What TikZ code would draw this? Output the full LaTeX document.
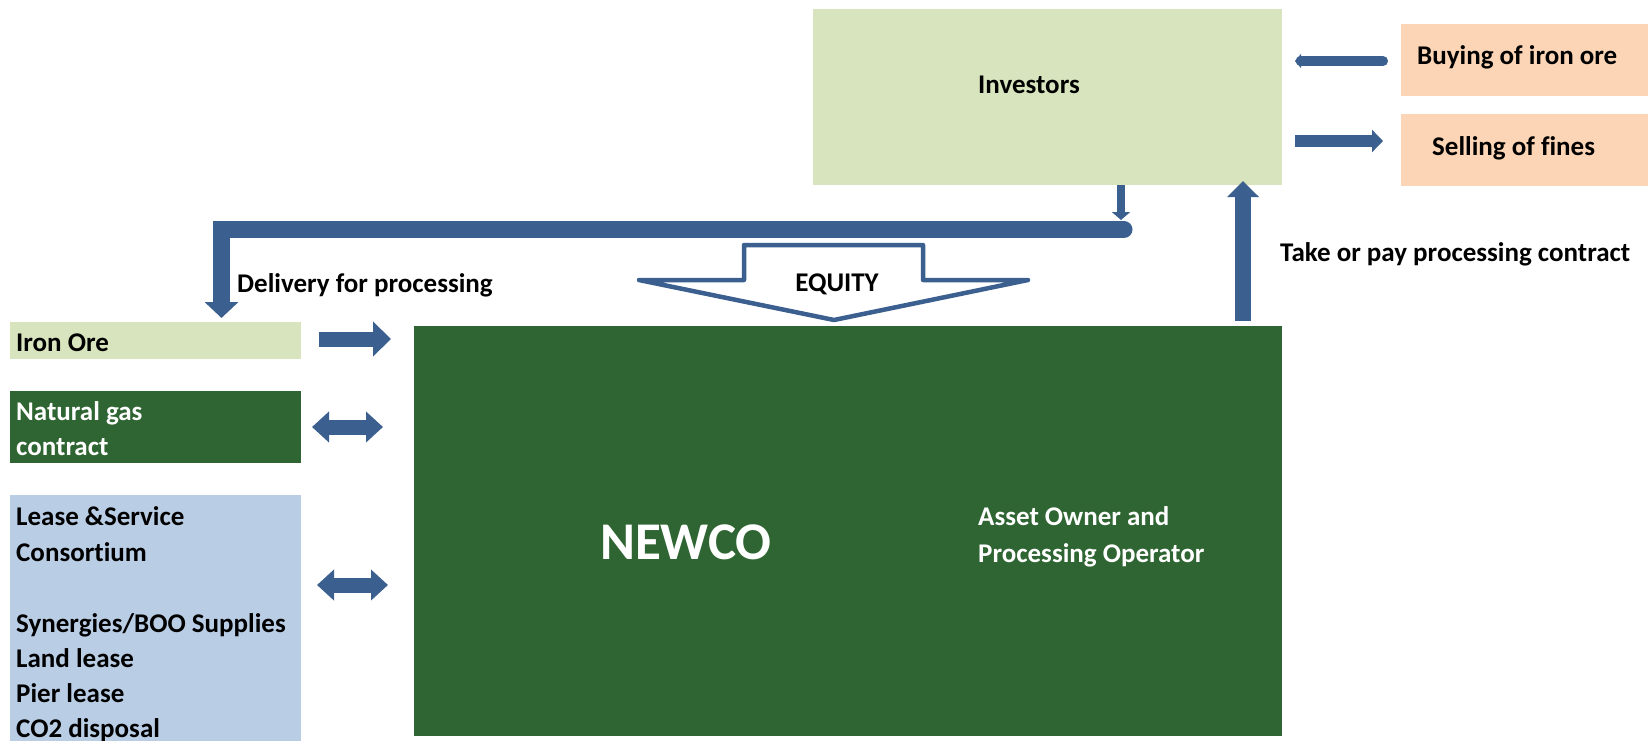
\documentclass[tikz,border=0pt]{standalone}
\usepackage{fontspec}
\setmainfont{Carlito}[Ligatures=NoCommon]
\usetikzlibrary{arrows.meta}
\definecolor{lgreen}{HTML}{D7E4BD}
\definecolor{dgreen}{HTML}{2F6532}
\definecolor{lblue}{HTML}{B9CDE5}
\definecolor{peach}{HTML}{FBD5B5}
\definecolor{ablue}{HTML}{3B5F8F}
\begin{document}
\begin{tikzpicture}[x=1pt,y=-1pt,
  box/.style={draw=none,inner sep=0,outer sep=0,anchor=north west},
  lbl/.style={font=\fontsize{27}{35}\selectfont\bfseries,inner sep=0,anchor=base west},
  wlbl/.style={lbl,text=white},
  blk/.style={draw=ablue,line width=#1},
]
\useasboundingbox (0,0) rectangle (1648,741);
% boxes
\node[box,fill=lgreen,minimum width=469pt,minimum height=176pt] (inv) at (813,9) {};
\node[box,fill=peach,minimum width=247pt,minimum height=72pt] (buy) at (1401,24) {};
\node[box,fill=peach,minimum width=247pt,minimum height=72pt] (sell) at (1401,114) {};
\node[box,fill=lgreen,minimum width=291pt,minimum height=37pt] (iron) at (10,322) {};
\node[box,fill=dgreen,minimum width=291pt,minimum height=72pt] (gas) at (10,391) {};
\node[box,fill=lblue,minimum width=291pt,minimum height=246pt] (lease) at (10,495) {};
\node[box,fill=dgreen,minimum width=868pt,minimum height=410pt] (newco) at (414,326) {};
% texts
\node[lbl] (tinv) at (978,94) {Investors};
\node[lbl] (tbuy) at (1417,65) {Buying of iron ore};
\node[lbl] (tsell) at (1432,155) {Selling of fines};
\node[lbl] (ttake) at (1280,261) {Take or pay processing contract};
\node[lbl] (tdel) at (237,292) {Delivery for processing};
\node[lbl] (tiron) at (16,351) {Iron Ore};
\node[wlbl] (tgas1) at (16,420) {Natural gas};
\node[wlbl] (tgas2) at (16,455) {contract};
\node[lbl] (tl1) at (16,525) {Lease \&Service};
\node[lbl] (tl2) at (16,561) {Consortium};
\node[lbl] (tl3) at (16,632) {Synergies/BOO Supplies};
\node[lbl] (tl4) at (16,667) {Land lease};
\node[lbl] (tl5) at (16,702) {Pier lease};
\node[lbl] (tl6) at (16,737) {CO2 disposal};
\node[wlbl,font=\fontsize{53}{60}\selectfont\bfseries,anchor=base] (tnewco) at (686,559) {NEWCO};
\node[wlbl] (tasset1) at (978,525) {Asset Owner and};
\node[wlbl] (tasset2) at (978,562) {Processing Operator};
% equity arrow
\draw[ablue,line width=4.5pt,fill=white,line join=round]
  (744,245) -- (923,245) -- (923,280) -- (1028,280) -- (834,320) -- (639,280) -- (744,280) -- cycle;
\node[lbl,anchor=base] (teq) at (837,291) {EQUITY};
% connectors
\coordinate (delstart) at (1124,229.5);
\coordinate (delcorner) at (221.5,229.5);
\coordinate (delend) at (221.5,318);
\draw[blk=8pt,-{Triangle[width=18pt,length=8pt]}] ([xshift=-161pt]inv.south east) -- ([xshift=-3pt,yshift=9.5pt]delstart);
\draw[blk=17pt,line cap=round,line join=miter,-{Triangle[width=33pt,length=16pt]}] (delstart) -- (delcorner) -- (delend);
\draw[blk=16pt,-{Triangle[width=31pt,length=16pt]}] ([xshift=-39pt,yshift=5pt]newco.north east) -- ([xshift=-39pt,yshift=4pt]inv.south east);
\draw[blk=10pt,line cap=round,-{Triangle[width=14pt,length=6pt]}] ([xshift=-18pt,yshift=-1pt]buy.west) -- ([xshift=13pt,yshift=-1pt]inv.east |- buy.west);
\draw[blk=11pt,-{Triangle[width=22pt,length=11pt]}] ([xshift=13pt,yshift=9pt]inv.east |- sell.west) -- ([xshift=-18pt,yshift=9pt]sell.west);
\draw[blk=15pt,-{Triangle[width=34pt,length=18pt]}] ([xshift=18pt,yshift=1.5pt]iron.east) -- ([xshift=-23pt,yshift=1.5pt]newco.west |- iron.east);
\draw[blk=15pt,{Triangle[width=30pt,length=17pt]}-{Triangle[width=30pt,length=17pt]}] ([xshift=11pt]gas.east) -- ([xshift=-31pt]newco.west |- gas.east);
\draw[blk=15pt,{Triangle[width=30pt,length=17pt]}-{Triangle[width=30pt,length=17pt]}] ([xshift=16pt,yshift=33pt]lease.east) -- ([xshift=-26pt,yshift=33pt]newco.west |- lease.east);
\end{tikzpicture}
\end{document}
